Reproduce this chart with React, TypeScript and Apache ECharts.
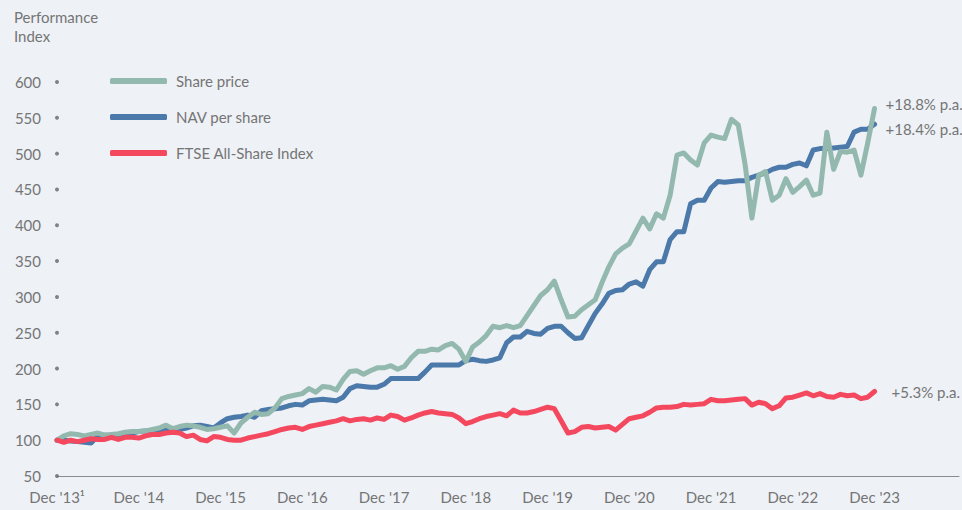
import React, { useEffect, useRef } from "react";
import * as echarts from "echarts";

const xLabels = ["Dec '13¹", "Dec '14", "Dec '15", "Dec '16", "Dec '17", "Dec '18", "Dec '19", "Dec '20", "Dec '21", "Dec '22", "Dec '23"];
const yTicks = [50, 100, 150, 200, 250, 300, 350, 400, 450, 500, 550, 600];

// monthly values, Dec 2013 .. Dec 2023 (index 100 = Dec 2013)
const sharePrice = [
  100, 106, 109, 108, 106, 108, 110, 107, 108, 109, 111, 112,
  112, 113, 115, 117, 121, 116, 119, 121, 120, 118, 115, 116,
  118, 120, 110, 124, 132, 139, 136, 137, 145, 158, 161, 163,
  165, 172, 167, 175, 174, 170, 185, 196, 197, 192, 197, 201,
  201, 204, 199, 203, 215, 224, 224, 227, 226, 232, 235, 227,
  210, 230, 237, 246, 259, 257, 260, 257, 260, 274, 288, 302,
  310, 322, 296, 272, 273, 282, 289, 296, 320, 342, 360, 368,
  374, 392, 410, 395, 416, 410, 442, 498, 501, 491, 484, 515,
  526, 523, 521, 548, 540, 485, 410, 470, 475, 435, 442, 465,
  446, 454, 463, 442, 445, 530, 478, 503, 502, 505, 470, 515,
  563,
];
const navPerShare = [
  100, 100, 99, 98, 97, 96, 106, 107, 107, 108, 109, 110,
  112, 113, 112, 112, 114, 114, 115, 117, 120, 121, 119, 117,
  124, 130, 132, 133, 135, 132, 141, 143, 144, 145, 148, 150,
  149, 155, 156, 157, 156, 155, 160, 172, 176, 175, 174, 174,
  178, 186, 186, 186, 186, 186, 195, 205, 205, 205, 205, 205,
  211, 213, 211, 210, 212, 215, 236, 244, 244, 252, 249, 248,
  256, 259, 259, 250, 242, 243, 260, 277, 290, 305, 309, 310,
  318, 321, 315, 338, 349, 349, 380, 391, 391, 430, 435, 435,
  452, 461, 460, 461, 462, 462, 467, 470, 473, 478, 481, 481,
  485, 487, 483, 505, 507, 507, 508, 509, 510, 530, 534, 534,
  541,
];
const ftseAllShare = [
  100, 97, 100, 98, 100, 102, 101, 101, 104, 101, 104, 104,
  103, 106, 108, 108, 110, 111, 110, 105, 107, 101, 99, 105,
  104, 101, 100, 100, 103, 105, 107, 109, 112, 115, 117, 118,
  115, 119, 121, 123, 125, 127, 130, 127, 129, 130, 128, 131,
  129, 135, 133, 128, 131, 135, 138, 140, 138, 137, 136, 131,
  123, 126, 130, 133, 135, 137, 134, 142, 138, 138, 140, 143,
  146, 144, 127, 110, 112, 118, 119, 117, 118, 119, 114, 122,
  130, 132, 134, 139, 145, 146, 146, 147, 150, 149, 150, 151,
  157, 155, 155, 156, 157, 158, 149, 153, 151, 144, 148, 159,
  160, 163, 166, 162, 165, 161, 160, 164, 162, 163, 158, 160,
  168,
];
const seriesNames = ["Share price", "NAV per share", "FTSE All-Share Index"];
const endLabels = ["+18.8% p.a.", "+18.4% p.a.", "+5.3% p.a."];

const COLORS = { share: "#93B9AF", nav: "#4B79AA", ftse: "#F4485F" };
const TEXT = "#757575";
const FONT = "Lato, 'Noto Sans', sans-serif";

export default function App() {
  const ref = useRef<HTMLDivElement>(null);
  useEffect(() => {
    if (!ref.current) return;
    const chart = echarts.init(ref.current, undefined, { renderer: "svg" });
    const toPts = (arr: number[]) => arr.map((v, i) => [i, v]);
    const lineSeries = (name: string, data: number[], color: string, label: string, offset: number[], z: number) => ({
      name,
      type: "line",
      data: toPts(data),
      symbol: "none",
      z,
      lineStyle: { color, width: 5, cap: "round", join: "round" },
      itemStyle: { color },
      endLabel: {
        show: true,
        formatter: label,
        offset,
        color: TEXT,
        fontSize: 15,
        fontFamily: FONT,
      },
    });
    chart.setOption({
      animation: false,
      backgroundColor: "#EEF1F6",
      title: {
        text: "Performance",
        subtext: "Index",
        left: 14,
        top: 9,
        padding: 0,
        itemGap: 4,
        textStyle: { fontSize: 15, fontWeight: "normal", color: TEXT, lineHeight: 15, fontFamily: FONT },
        subtextStyle: { fontSize: 15, fontWeight: "normal", color: TEXT, lineHeight: 15, fontFamily: FONT },
      },
      legend: {
        orient: "vertical",
        left: 105,
        top: 68,
        itemWidth: 57,
        itemHeight: 6,
        itemGap: 20,
        icon: "roundRect",
        data: seriesNames,
        textStyle: { fontSize: 15, color: TEXT, fontFamily: FONT, lineHeight: 16, padding: [0, 0, 0, 4] },
      },
      grid: { left: 57, right: 2, top: 82, bottom: 34, containLabel: false },
      xAxis: {
        type: "value",
        min: 0,
        max: 132.4,
        interval: 12,
        axisLine: { show: true, lineStyle: { color: "#8C8C8C", width: 1 } },
        axisTick: { show: false },
        splitLine: { show: false },
        axisLabel: {
          margin: 13,
          color: TEXT,
          fontSize: 15,
          fontFamily: FONT,
          formatter: (v: number) => xLabels[Math.round(v / 12)] ?? "",
        },
      },
      yAxis: {
        type: "value",
        min: 50,
        max: 600,
        interval: 50,
        axisLine: { show: false },
        axisTick: { show: false },
        splitLine: { show: false },
        axisLabel: { margin: 16, color: TEXT, fontSize: 15, fontFamily: FONT },
      },
      series: [
        lineSeries(seriesNames[1], navPerShare, COLORS.nav, endLabels[1], [3, 5], 2),
        lineSeries(seriesNames[0], sharePrice, COLORS.share, endLabels[0], [3, -5], 3),
        lineSeries(seriesNames[2], ftseAllShare, COLORS.ftse, endLabels[2], [9, 1], 4),
        {
          type: "scatter",
          data: yTicks.map((v) => [0, v]),
          symbolSize: 4,
          itemStyle: { color: "#666" },
          silent: true,
          z: 1,
          clip: false,
        },
      ],
    });
    return () => chart.dispose();
  }, []);
  return (
    <div
      ref={ref}
      style={{ position: "absolute", left: 0, top: 0, width: 962, height: 510 }}
    />
  );
}
